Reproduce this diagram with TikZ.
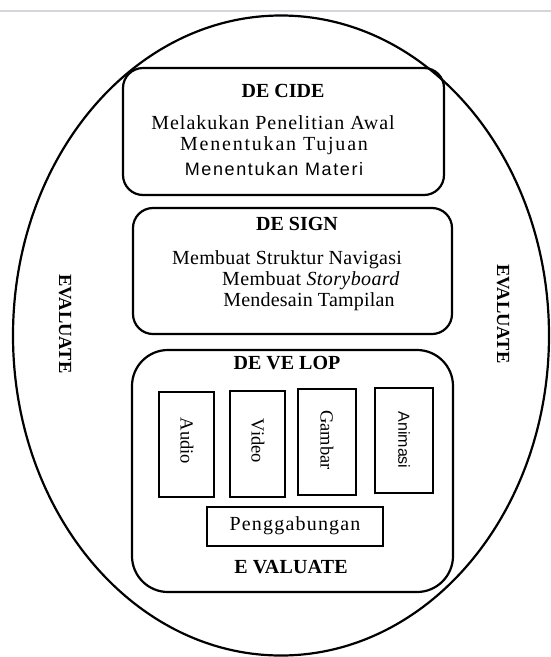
\documentclass[tikz,border=0pt]{standalone}
\usepackage{fontspec}
\setmainfont{Liberation Serif}
\setsansfont{Liberation Sans}
\newcommand\lsp[2]{{\addfontfeatures{LetterSpace=#1}#2}}
\begin{document}
\begin{tikzpicture}[x=1pt,y=-1pt,
  phase/.style={draw=black,line width=2.2pt,rounded corners=20pt,inner sep=0pt},
  media/.style={draw=black,line width=2.6pt,inner sep=0pt},
  head/.style={font=\fontsize{20}{22}\selectfont\bfseries,inner sep=0pt},
  txt/.style={font=\fontsize{20}{22}\selectfont,inner sep=0pt},
  rtxt/.style={font=\fontsize{18.5}{20}\selectfont,inner sep=0pt,rotate=-90},
  stxt/.style={font=\fontsize{18}{20}\selectfont\sffamily,inner sep=0pt}]
\useasboundingbox (0,0) rectangle (551,657);
\fill[white] (0,0) rectangle (551,657);
\coordinate (gl) at (0,11);
\coordinate (gr) at (551,11);
\draw[draw={rgb,255:red,211;green,214;blue,218},line width=2pt] (gl) -- (gr);
% outer ellipse
\draw[line width=2.2pt] (281,335.5) ellipse [x radius=268, y radius=320];
% DECIDE
\node[phase,minimum width=321pt,minimum height=127pt] (decide) at (283.5,131.5) {};
\node[head] (decideT) at (283,91) {DE CIDE};
\node[txt] (d1) at (273,123) {\lsp{5}{Melakukan Penelitian Awal}};
\node[txt] (d2) at (274,146) {\lsp{9}{Menentukan Tujuan}};
\node[stxt] (d3) at (274,169) {\lsp{9}{Menentukan Materi}};
% DESIGN
\node[phase,minimum width=319pt,minimum height=126pt] (design) at (292.5,271) {};
\node[head] (designT) at (297,224) {DE SIGN};
\node[txt] (s1) at (287,260) {\lsp{1.5}{Membuat Struktur Navigasi}};
\node[txt] (s2) at (311,281) {\lsp{2}{Membuat \textit{\addfontfeatures{LetterSpace=2}Storyboard}}};
\node[txt] (s3) at (309,302) {\lsp{1}{Mendesain Tampilan}};
% DEVELOP
\node[phase,rounded corners=36pt,minimum width=321pt,minimum height=242pt] (develop) at (292.5,471) {};
\node[head] (developT) at (287,363) {DE VE LOP};
\node[media,minimum width=55pt,minimum height=105pt] (audio) at (186.5,444.5) {};
\node[media,minimum width=55pt,minimum height=106pt] (video) at (257.5,444) {};
\node[media,minimum width=58pt,minimum height=106pt] (gambar) at (327,442) {};
\node[media,minimum width=58pt,minimum height=105pt] (animasi) at (404,440.5) {};
\node[rtxt] (audioT) at (187,441) {Audio};
\node[rtxt] (videoT) at (258,441) {Video};
\node[rtxt] (gambarT) at (327,440) {Gambar};
\node[stxt,font=\fontsize{16}{18}\selectfont\sffamily,rotate=-90] (animasiT) at (404,440) {Animasi};
\node[media,minimum width=176pt,minimum height=39pt] (gabung) at (295,526.5) {};
\node[txt] (gabungT) at (295,526) {\lsp{6}{Penggabungan}};
\node[head] (evalB) at (291,567) {\lsp{1}{E VALUATE}};
% side labels
\node[head,font=\fontsize{18.5}{20}\selectfont\bfseries,rotate=-90] (evalL) at (65,324) {EVALUATE};
\node[head,font=\fontsize{18.5}{20}\selectfont\bfseries,rotate=-90] (evalR) at (503,314) {EVALUATE};
\end{tikzpicture}
\end{document}
